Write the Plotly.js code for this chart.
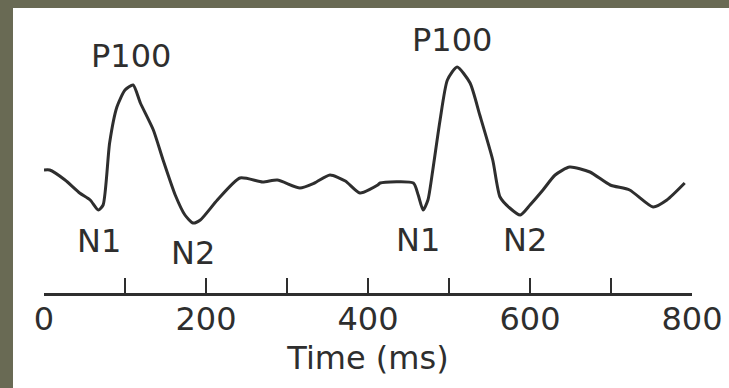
<!DOCTYPE html>
<html>
<head>
<meta charset="utf-8">
<script src="https://cdn.plot.ly/plotly-3.0.1.min.js"></script>
<style>
  html, body { margin: 0; padding: 0; width: 729px; height: 388px; overflow: hidden; background: #696a54; }
  #chart { position: absolute; left: 13px; top: 8px; width: 716px; height: 380px; background: #ffffff; }
</style>
</head>
<body>
<div id="chart"></div>
<script>
// Waveform (time in ms, amplitude in arbitrary units)
const timeMs = [0, 7, 26, 44, 57, 67, 73, 81, 90, 100, 110, 119, 135, 147, 162, 174, 184, 193, 214, 242, 270, 288, 316, 334, 353, 372, 390, 412, 415, 456, 462, 468, 474, 480, 489, 498, 510, 526, 538, 554, 563, 575, 588, 600, 616, 631, 649, 674, 699, 723, 752, 769, 791];
const amplitude = [12.3, 12.3, 11.3, 10.0, 9.3, 8.3, 8.8, 15.0, 18.6, 20.3, 20.8, 19.0, 16.3, 13.3, 9.8, 7.8, 7.0, 7.3, 9.3, 11.5, 11.1, 11.3, 10.5, 11.0, 11.8, 11.2, 10.0, 10.8, 11.0, 11.0, 9.8, 8.3, 9.3, 12.3, 17.3, 21.3, 22.6, 21.0, 17.8, 13.3, 9.6, 8.5, 7.8, 8.8, 10.3, 11.8, 12.6, 12.1, 10.8, 10.3, 8.6, 9.3, 11.0];

// Component labels
const peakLabels = ['P100', 'N1', 'N2', 'P100', 'N1', 'N2'];
const peakLabelTime = [107, 68, 184, 504, 462, 594];
const peakLabelAmp = [23.7, 5.2, 4.0, 25.3, 5.3, 5.3];

// Axis ticks
const majorTicks = [0, 200, 400, 600, 800];
const majorTickText = ['0', '200', '400', '600', '800'];
const minorTicks = [100, 300, 500, 700];

const ink = '#2e2e2e';
const fontFamily = 'DejaVu Sans, sans-serif';

const annotations = peakLabels.map((txt, i) => ({
  x: peakLabelTime[i], y: peakLabelAmp[i], xref: 'x', yref: 'y',
  text: txt, showarrow: false,
  font: { family: fontFamily, size: 32, color: ink },
  xanchor: 'center', yanchor: 'middle'
}));

Plotly.newPlot('chart', [{
  x: timeMs, y: amplitude, type: 'scatter', mode: 'lines',
  line: { color: ink, width: 3, shape: 'spline', smoothing: 0.6 },
  hoverinfo: 'skip'
}], {
  width: 716, height: 380,
  margin: { l: 31, r: 37, t: 12, b: 95 },
  paper_bgcolor: '#ffffff', plot_bgcolor: '#ffffff',
  showlegend: false,
  xaxis: {
    range: [0, 800], showgrid: false, zeroline: false,
    showline: true, linecolor: ink, linewidth: 3,
    ticks: 'inside', ticklen: 15, tickwidth: 2.5, tickcolor: ink,
    tickvals: majorTicks, ticktext: majorTickText,
    ticklabelstandoff: -4,
    tickfont: { family: fontFamily, size: 32, color: ink },
    minor: { tickvals: minorTicks, ticks: 'inside', ticklen: 15, tickwidth: 2.5, tickcolor: ink, showgrid: false },
    title: { text: 'Time (ms)', font: { family: fontFamily, size: 32, color: ink }, standoff: 10 }
  },
  yaxis: { range: [0, 27.3], visible: false, fixedrange: true },
  annotations: annotations
}, { displayModeBar: false, staticPlot: true });
</script>
</body>
</html>
